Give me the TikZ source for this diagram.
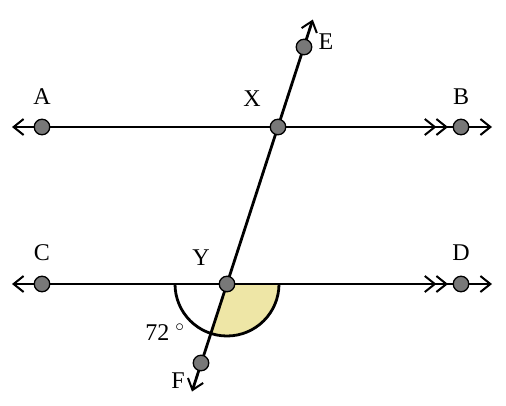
\documentclass[tikz,border=0pt]{standalone}
\usepackage{fontspec}
\setmainfont{Liberation Serif}
\usetikzlibrary{arrows.meta,calc}
\definecolor{ptgray}{RGB}{120,120,120}
\definecolor{angfill}{RGB}{238,230,166}
\tikzset{
  pt/.style={circle,draw=black,fill=ptgray,line width=1.3pt,inner sep=0pt,minimum size=15.5pt},
  lbl/.style={font=\fontsize{24}{28}\selectfont,inner sep=0pt,text=black},
  ln/.style={line width=2.8pt},
  barb/.tip={Straight Barb[length=10pt,width=16pt,line width=2pt]}
}
\begin{document}
\begin{tikzpicture}[x=1pt,y=-1pt]
\useasboundingbox (0,0) rectangle (506,405);
% coordinates
\coordinate (Aend) at (12,127);
\coordinate (Bend) at (492,127);
\coordinate (Cend) at (12,284);
\coordinate (Dend) at (492,284);
\coordinate (Eend) at (312.8,19.5);
\coordinate (Fend) at (192,391.5);
% angle
\fill[angfill] (227,284) -- ++(251.8:52pt) arc[start angle=251.8,end angle=360,radius=52pt] -- cycle;
\draw[ln] (175,284) arc[start angle=180,end angle=360,radius=52pt];
% lines
\draw[ln,{barb}-{barb}] (Aend) -- (Bend);
\draw[ln,{barb}-{barb}] (Cend) -- (Dend);
\draw[ln,{barb}-{barb}] (Fend) -- (Eend);
% parallel markers
\coordinate (m1s) at (420,127);
\coordinate (m1e) at (448,127);
\coordinate (m2s) at (420,284);
\coordinate (m2e) at (448,284);
\draw[ln,-{barb[sep=-1pt]barb}] (m1s) -- (m1e);
\draw[ln,-{barb[sep=-1pt]barb}] (m2s) -- (m2e);
% points
\node[pt] (A) at (42,127) {};
\node[pt] (B) at (461,127) {};
\node[pt] (X) at (278,127) {};
\node[pt] (C) at (42,284) {};
\node[pt] (D) at (461,284) {};
\node[pt] (Y) at (227,284) {};
\node[pt] (E) at (304,47) {};
\node[pt] (F) at (201,363) {};
% labels
\node[lbl] (lA) at (42,97) {A};
\node[lbl] (lB) at (461,97) {B};
\node[lbl] (lX) at (252,99) {X};
\node[lbl] (lC) at (42,253) {C};
\node[lbl] (lD) at (461,253) {D};
\node[lbl] (lY) at (201,258) {Y};
\node[lbl] (lE) at (326,42) {E};
\node[lbl] (lF) at (178,381) {F};
\node[lbl] (lang) at (165,332) {72 $^\circ$};
\end{tikzpicture}
\end{document}
